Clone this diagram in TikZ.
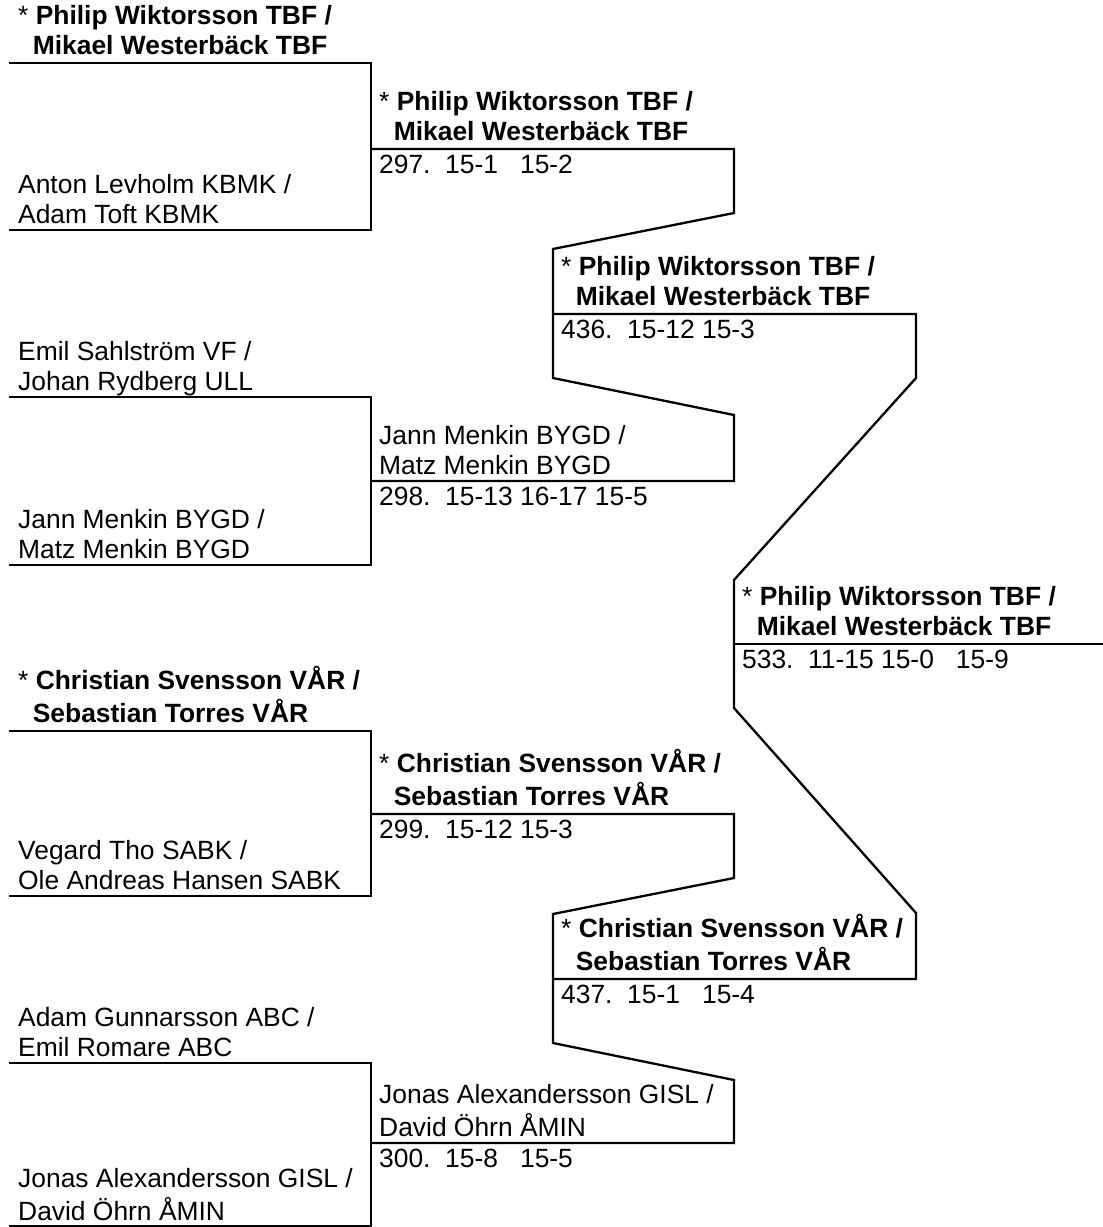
\documentclass[tikz,border=0pt]{standalone}
\usepackage{fontspec}
\setmainfont{Liberation Sans}
\newcommand{\twoline}[2]{\begin{tabular}[b]{@{}l@{}}#1\\#2\end{tabular}}
\newcommand{\seedmark}{\textmd{*}}
\tikzset{
  wire/.style={line width=2.3pt, line join=miter},
  plain/.style={anchor=base west, inner sep=0pt, font=\fontsize{26.4}{30}\selectfont},
  winner/.style={plain, font=\fontsize{26.4}{30}\selectfont\bfseries},
  score/.style={plain}
}
\begin{document}
\begin{tikzpicture}[x=1pt,y=-1pt]
\useasboundingbox (0,0) rectangle (1103,1227);

% ---------- round 1 ----------
\coordinate (m1a) at (9,63);   \coordinate (m1b) at (9,230);
\coordinate (m2a) at (9,397);  \coordinate (m2b) at (9,565);
\coordinate (m3a) at (9,731);  \coordinate (m3b) at (9,896);
\coordinate (m4a) at (9,1063); \coordinate (m4b) at (9,1226);
\draw[wire] (m1a) -- (371,63)   -- (371,230)  -- (m1b);
\draw[wire] (m2a) -- (371,397)  -- (371,565)  -- (m2b);
\draw[wire] (m3a) -- (371,731)  -- (371,896)  -- (m3b);
\draw[wire] (m4a) -- (371,1063) -- (371,1226) -- (m4b);

% ---------- round 2 ----------
\coordinate (w297) at (371,149);
\coordinate (w298) at (371,481);
\coordinate (w299) at (371,814);
\coordinate (w300) at (371,1143);
\coordinate (w436) at (553,314);
\coordinate (w437) at (553,979);
\coordinate (w533) at (734,644);
\draw[wire] (w297) -- (734,149)  -- (734,213)  -- (553,249)  -- (w436);
\draw[wire] (w298) -- (734,481)  -- (734,415)  -- (553,378)  -- (w436);
\draw[wire] (w299) -- (734,814)  -- (734,878)  -- (553,914)  -- (w437);
\draw[wire] (w300) -- (734,1143) -- (734,1080) -- (553,1043) -- (w437);

% ---------- round 3 ----------
\draw[wire] (w436) -- (916,314) -- (916,378) -- (734,580) -- (w533);
\draw[wire] (w437) -- (916,979) -- (916,913) -- (734,708) -- (w533);
\coordinate (fin) at (1103,644);
\draw[wire] (w533) -- (fin);

% ---------- round 1 names ----------
\node[winner] (p1) at (18,54)  {\twoline{\seedmark{} Philip Wiktorsson TBF /}{~~Mikael Westerbäck TBF}};
\node[plain]  (p2) at (18,223) {\twoline{Anton Levholm KBMK /}{Adam Toft KBMK}};
\node[plain]  (p3) at (18,390) {\twoline{Emil Sahlström VF /}{Johan Rydberg ULL}};
\node[plain]  (p4) at (18,558) {\twoline{Jann Menkin BYGD /}{Matz Menkin BYGD}};
\node[winner] (p5) at (18,722) {\twoline{\seedmark{} Christian Svensson VÅR /}{~~Sebastian Torres VÅR}};
\node[plain]  (p6) at (18,889) {\twoline{Vegard Tho SABK /}{Ole Andreas Hansen SABK}};
\node[plain]  (p7) at (18,1056) {\twoline{Adam Gunnarsson ABC /}{Emil Romare ABC}};
\node[plain]  (p8) at (18,1220) {\twoline{Jonas Alexandersson GISL /}{David Öhrn ÅMIN}};

% ---------- round 2 names and scores ----------
\node[winner] (q1) at (379,140) {\twoline{\seedmark{} Philip Wiktorsson TBF /}{~~Mikael Westerbäck TBF}};
\node[score]  (s297) at (379,173) {297.~~15-1~~~15-2};
\node[plain]  (q2) at (379,474) {\twoline{Jann Menkin BYGD /}{Matz Menkin BYGD}};
\node[score]  (s298) at (379,505) {298.~~15-13~16-17~15-5};
\node[winner] (q3) at (379,805) {\twoline{\seedmark{} Christian Svensson VÅR /}{~~Sebastian Torres VÅR}};
\node[score]  (s299) at (379,838) {299.~~15-12~15-3};
\node[plain]  (q4) at (379,1136) {\twoline{Jonas Alexandersson GISL /}{David Öhrn ÅMIN}};
\node[score]  (s300) at (379,1167) {300.~~15-8~~~15-5};

% ---------- round 3 ----------
\node[winner] (r1) at (561,305) {\twoline{\seedmark{} Philip Wiktorsson TBF /}{~~Mikael Westerbäck TBF}};
\node[score]  (s436) at (561,338) {436.~~15-12~15-3};
\node[winner] (r2) at (561,970) {\twoline{\seedmark{} Christian Svensson VÅR /}{~~Sebastian Torres VÅR}};
\node[score]  (s437) at (561,1003) {437.~~15-1~~~15-4};

% ---------- final ----------
\node[winner] (f1) at (742,635) {\twoline{\seedmark{} Philip Wiktorsson TBF /}{~~Mikael Westerbäck TBF}};
\node[score]  (s533) at (742,668) {533.~~11-15~15-0~~~15-9};
\end{tikzpicture}
\end{document}
